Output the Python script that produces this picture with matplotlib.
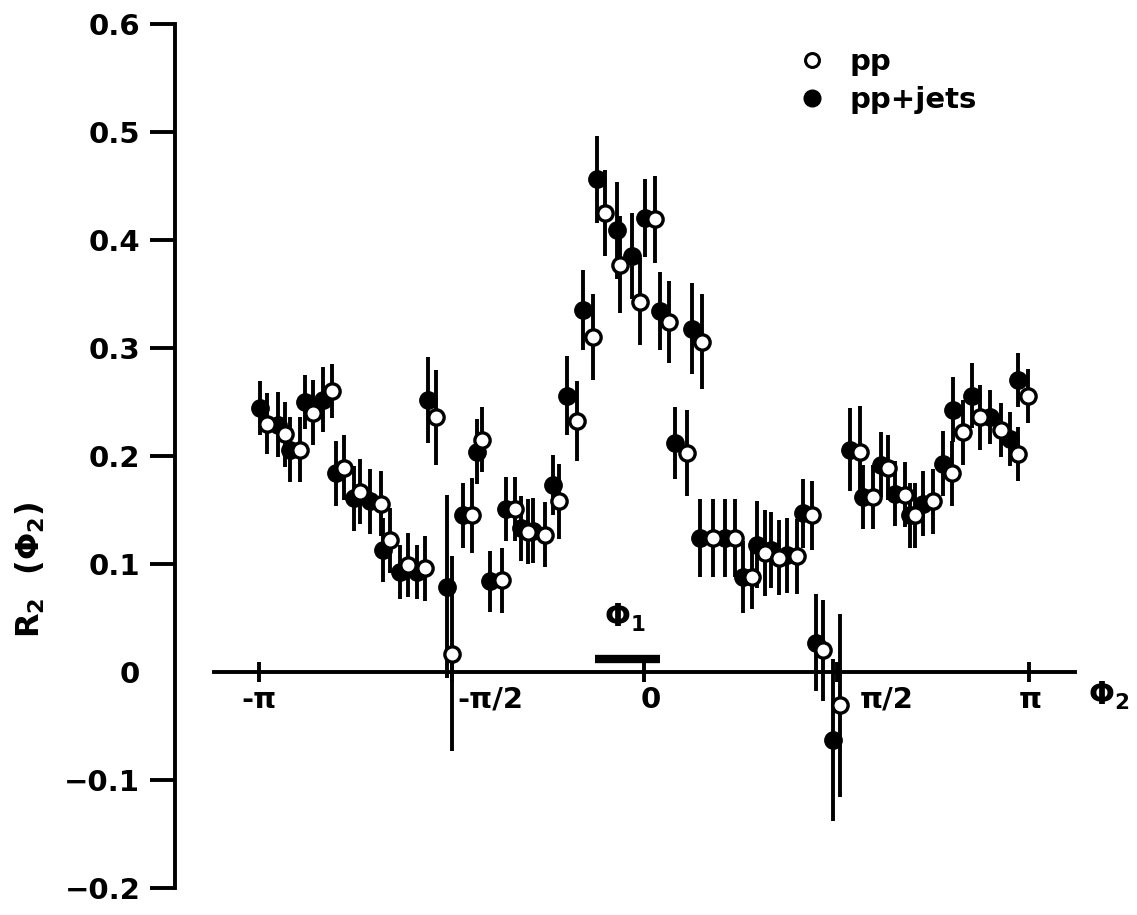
import numpy as np
import matplotlib.pyplot as plt
from matplotlib.lines import Line2D

plt.rcParams['font.family'] = ['DejaVu Sans']
plt.rcParams['font.weight'] = 'bold'
plt.rcParams['mathtext.fontset'] = 'dejavusans'
plt.rcParams['mathtext.default'] = 'bf'

# pp+jets (filled points): azimuth Φ2 [rad], R2, error
phi_jets = [-3.13, -2.99, -2.89, -2.77, -2.62, -2.51, -2.37, -2.24, -2.13, -1.99,
            -1.85, -1.76, -1.61, -1.48, -1.36, -1.26, -1.13, -1.00, -0.91, -0.74,
            -0.63, -0.50, -0.38, -0.22, -0.10, 0.01, 0.13, 0.25, 0.39, 0.46,
            0.66, 0.81, 0.92, 1.04, 1.17, 1.30, 1.40, 1.54, 1.68, 1.79,
            1.93, 2.05, 2.17, 2.28, 2.44, 2.52, 2.68, 2.82, 2.99, 3.05]
r2_jets = [0.244, 0.229, 0.206, 0.250, 0.252, 0.184, 0.161, 0.158, 0.113, 0.093,
           0.093, 0.252, 0.079, 0.145, 0.204, 0.084, 0.151, 0.133, 0.131, 0.173,
           0.256, 0.335, 0.456, 0.409, 0.385, 0.420, 0.334, 0.212, 0.318, 0.124,
           0.124, 0.088, 0.118, 0.113, 0.108, 0.147, 0.027, -0.063, 0.206, 0.162,
           0.192, 0.165, 0.145, 0.156, 0.193, 0.243, 0.256, 0.236, 0.216, 0.270]
err_jets = [0.025, 0.030, 0.030, 0.025, 0.030, 0.030, 0.030, 0.030, 0.030, 0.025,
            0.025, 0.040, 0.085, 0.030, 0.030, 0.028, 0.030, 0.030, 0.030, 0.028,
            0.037, 0.037, 0.040, 0.045, 0.040, 0.036, 0.036, 0.033, 0.042, 0.036,
            0.036, 0.033, 0.040, 0.035, 0.035, 0.032, 0.045, 0.075, 0.038, 0.030,
            0.030, 0.030, 0.030, 0.030, 0.030, 0.030, 0.030, 0.025, 0.025, 0.025]

# pp (open points)
phi_pp = [-3.08, -2.93, -2.81, -2.70, -2.55, -2.45, -2.32, -2.15, -2.07, -1.93,
          -1.79, -1.70, -1.57, -1.40, -1.32, -1.16, -1.05, -0.95, -0.81, -0.69,
          -0.55, -0.42, -0.32, -0.20, -0.03, 0.09, 0.20, 0.35, 0.47, 0.56,
          0.74, 0.88, 0.99, 1.10, 1.25, 1.37, 1.46, 1.60, 1.76, 1.87,
          1.99, 2.13, 2.21, 2.36, 2.51, 2.60, 2.74, 2.91, 3.05, 3.13]
r2_pp = [0.230, 0.220, 0.206, 0.240, 0.260, 0.189, 0.167, 0.156, 0.122, 0.099,
         0.096, 0.236, 0.017, 0.145, 0.215, 0.085, 0.151, 0.130, 0.127, 0.158,
         0.232, 0.310, 0.425, 0.377, 0.343, 0.419, 0.324, 0.203, 0.306, 0.124,
         0.124, 0.088, 0.110, 0.106, 0.107, 0.145, 0.020, -0.031, 0.204, 0.162,
         0.189, 0.164, 0.145, 0.158, 0.184, 0.222, 0.236, 0.224, 0.202, 0.256]
err_pp = [0.028, 0.030, 0.030, 0.030, 0.025, 0.030, 0.030, 0.030, 0.030, 0.030,
          0.030, 0.044, 0.090, 0.035, 0.030, 0.030, 0.030, 0.030, 0.030, 0.035,
          0.037, 0.040, 0.040, 0.045, 0.040, 0.040, 0.038, 0.040, 0.044, 0.036,
          0.036, 0.030, 0.040, 0.035, 0.035, 0.032, 0.047, 0.085, 0.042, 0.030,
          0.030, 0.030, 0.030, 0.030, 0.030, 0.030, 0.030, 0.025, 0.025, 0.025]

y_ticks = [-0.2, -0.1, 0.0, 0.1, 0.2, 0.3, 0.4, 0.5, 0.6]
y_tick_labels = ['\u22120.2', '\u22120.1', '0', '0.1', '0.2', '0.3', '0.4', '0.5', '0.6']
x_ticks = [-np.pi, -np.pi / 2, 0.0, np.pi / 2, np.pi]
x_tick_labels = ['-\u03c0', '-\u03c0/2', '0', '\u03c0/2', '\u03c0']
phi1_range = [-0.40, 0.13]

fig = plt.figure(figsize=(11.37, 9.15), dpi=100)
ax = fig.add_axes([140 / 1137, 15 / 915, 960 / 1137, 885 / 915])
ax.set_xlim(-4.113, 3.721)
ax.set_ylim(-0.2111, 0.6083)

lw = 2.8
for side in ('top', 'right'):
    ax.spines[side].set_visible(False)
ax.spines['left'].set_position(('data', -3.827))
ax.spines['left'].set_bounds(-0.2, 0.6)
ax.spines['bottom'].set_position(('data', 0.0))
ax.spines['bottom'].set_bounds(-3.509, 3.517)
for side in ('left', 'bottom'):
    ax.spines[side].set_linewidth(lw)

ax.set_yticks(y_ticks)
ax.set_yticklabels(y_tick_labels)
ax.tick_params(axis='y', direction='out', length=18, width=lw, pad=7, labelsize=21)
ax.yaxis.get_major_ticks()[2].tick1line.set_visible(False)

ax.set_xticks(x_ticks)
ax.tick_params(axis='x', direction='inout', length=15, width=lw, labelbottom=False)

# x tick labels sit a little to the right of some ticks
x_label_offsets = [0, 4, 5, 17, 1]
x_label_ha = ['center', 'left', 'center', 'left', 'center']
for xv, txt, dx, ha in zip(x_ticks, x_tick_labels, x_label_offsets, x_label_ha):
    ax.annotate(txt, (xv, 0), xytext=(dx, -20), textcoords='offset points',
                ha=ha, va='center', fontsize=21, fontweight='bold')

# error bars then markers
ax.errorbar(phi_jets, r2_jets, yerr=err_jets, fmt='none', ecolor='black',
            elinewidth=2.8, capsize=0, zorder=2)
ax.errorbar(phi_pp, r2_pp, yerr=err_pp, fmt='none', ecolor='black',
            elinewidth=2.8, capsize=0, zorder=2)
ax.plot(phi_jets, r2_jets, 'o', color='black', markersize=12.5, zorder=3)
ax.plot(phi_pp, r2_pp, 'o', markerfacecolor='white', markeredgecolor='black',
        markeredgewidth=2.4, markersize=11, zorder=4)

# trigger direction Φ1
ax.plot(phi1_range, [0.012, 0.012], color='black', lw=6, solid_capstyle='butt')
ax.text(-0.16, 0.05, r'$\mathbf{\Phi_1}$', ha='center', va='center', fontsize=22)

ax.text(3.79, -0.022, r'$\mathbf{\Phi_2}$', ha='center', va='center', fontsize=22)
fig.text(30 / 1137, 1 - 570 / 915, r'$\mathbf{R_2\ \ (\Phi_2)}$', rotation=90,
         ha='center', va='center', fontsize=23)

handles = [Line2D([], [], ls='none', marker='o', markerfacecolor='white',
                  markeredgecolor='black', markeredgewidth=2.2, markersize=10),
           Line2D([], [], ls='none', marker='o', color='black', markersize=12)]
fig.legend(handles, ['pp', 'pp+jets'], loc='upper left',
           bbox_to_anchor=(797 / 1137, 1 - 48 / 915), frameon=False,
           fontsize=21, handlelength=1.0, handletextpad=0.8, labelspacing=0.35,
           borderpad=0, borderaxespad=0)

fig.savefig('out.png', dpi=100)
